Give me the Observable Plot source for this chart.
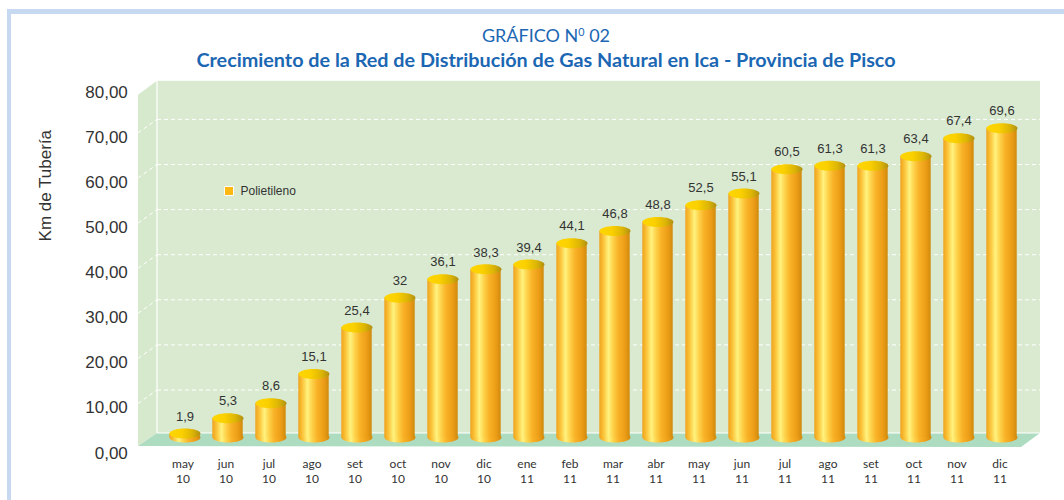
<!DOCTYPE html>
<html>
<head>
<meta charset="utf-8">
<script src="https://cdn.jsdelivr.net/npm/d3@7"></script>
<script src="https://cdn.jsdelivr.net/npm/@observablehq/plot@0.6"></script>
<style>
  html, body { margin: 0; padding: 0; background: #fff; }
  body { width: 1064px; height: 500px; position: relative; overflow: hidden; }
  #frame { position: absolute; left: 7px; top: 9px; right: -10px; bottom: -10px;
           border-top: 5px solid #c6d9f0; border-left: 4px solid #c6d9f0; }
  .t { position: absolute; left: 0; width: 1092px; text-align: center; color: #1b67b3;
       font-family: Lato, "Open Sans", sans-serif; white-space: nowrap; }
  #t1 { top: 26px; font-size: 18px; line-height: 18px; }
  #t1 sup { font-size: 0.6em; vertical-align: 0.6em; line-height: 0; }
  #t2 { top: 48px; font-size: 19.8px; line-height: 22px; font-weight: bold; }
  #chart { position: absolute; left: 0; top: 70px; }
</style>
</head>
<body>
<div id="frame"></div>
<div class="t" id="t1">GRÁFICO N<sup>0</sup> 02</div>
<div class="t" id="t2">Crecimiento de la Red de Distribución de Gas Natural en Ica - Provincia de Pisco</div>
<div id="chart"></div>
<script>
// ---- data ----
const months = ["may","jun","jul","ago","set","oct","nov","dic","ene","feb","mar","abr","may","jun","jul","ago","set","oct","nov","dic"];
const years  = ["10","10","10","10","10","10","10","10","11","11","11","11","11","11","11","11","11","11","11","11"];
const values = [1.9,5.3,8.6,15.1,25.4,32,36.1,38.3,39.4,44.1,46.8,48.8,52.5,55.1,60.5,61.3,61.3,63.4,67.4,69.6];
const yTicks = [0,10,20,30,40,50,60,70,80];
const gridTicks = [10,20,30,40,50,60,70];
const seriesName = "Polietileno";
const yTitle = "Km de Tubería";

const data = months.map((m, i) => ({key: m + "\n" + years[i], v: values[i]}));
const keys = data.map(d => d.key);
const fmtVal = v => String(v).replace(".", ",");
const fmtTick = v => v.toFixed(2).replace(".", ",");

// ellipse symbol for cylinder caps
const RX = 15.5, RY = 5, K = 0.5523;
const ellipse = {
  draw(ctx) {
    ctx.moveTo(-RX, 0);
    ctx.bezierCurveTo(-RX, -K * RY, -K * RX, -RY, 0, -RY);
    ctx.bezierCurveTo(K * RX, -RY, RX, -K * RY, RX, 0);
    ctx.bezierCurveTo(RX, K * RY, K * RX, RY, 0, RY);
    ctx.bezierCurveTo(-K * RX, RY, -RX, K * RY, -RX, 0);
    ctx.closePath();
  }
};

// gradients
function defs() {
  const d = d3.create("svg:defs");
  const g1 = d.append("linearGradient").attr("id", "bodyGrad").attr("x1", 0).attr("x2", 1).attr("y1", 0).attr("y2", 0);
  [[0, "#efa21c"], [0.14, "#fbc43a"], [0.30, "#fff27e"], [0.45, "#fdd24a"], [0.62, "#f9b227"], [0.85, "#eb9c16"], [1, "#cf8a0c"]]
    .forEach(([o, c]) => g1.append("stop").attr("offset", o).attr("stop-color", c));
  const g2 = d.append("linearGradient").attr("id", "capGrad").attr("x1", 0).attr("x2", 1).attr("y1", 0).attr("y2", 0);
  [[0, "#ffd500"], [0.4, "#fad000"], [0.75, "#dcb406"], [1, "#b09012"]]
    .forEach(([o, c]) => g2.append("stop").attr("offset", o).attr("stop-color", c));
  return d.node();
}

// 3D box: walls, floor and gridlines, positioned from the scales
function box(index, scales, values, dims) {
  const y = scales.y;
  const L = dims.marginLeft, R = dims.width - dims.marginRight;
  const backL = L + 0.7, backR = R + 15.3, frontL = L - 18.3, frontR = R - 3.7;
  const backTop = y(80), backBottom = y(0) - 8.6;
  const frontTop = y(80) + 14, frontBottom = y(0) + 4.4;
  const g = d3.create("svg:g");
  g.append("polygon").attr("points", [[frontL, frontTop], [backL, backTop], [backL, backBottom], [frontL, frontBottom]].join(" "))
    .attr("fill", "#d7e9cd");
  g.append("rect").attr("x", backL).attr("y", backTop).attr("width", backR - backL).attr("height", backBottom - backTop)
    .attr("fill", "#d9ead0");
  g.append("polygon").attr("points", [[frontL, frontBottom], [backL, backBottom], [backR, backBottom], [frontR, frontBottom + 1]].join(" "))
    .attr("fill", "#addcc1");
  for (const t of gridTicks) {
    const yb = y(t) - 6.5;
    g.append("line").attr("x1", backL).attr("x2", backR).attr("y1", yb).attr("y2", yb)
      .attr("stroke", "#fff").attr("stroke-dasharray", "4,3").attr("stroke-width", 1);
    g.append("line").attr("x1", frontL).attr("x2", backL).attr("y1", yb + 13.5).attr("y2", yb)
      .attr("stroke", "#fff").attr("stroke-dasharray", "4,3").attr("stroke-width", 1);
  }
  g.append("line").attr("x1", backL).attr("x2", backL).attr("y1", backTop).attr("y2", backBottom).attr("stroke", "#fff").attr("stroke-width", 1.2);
  g.append("line").attr("x1", backL).attr("x2", backR).attr("y1", backBottom).attr("y2", backBottom).attr("stroke", "#fff").attr("stroke-width", 1.2);
  return g.node();
}

const chart = Plot.plot({
  width: 1064,
  height: 430,
  marginLeft: 156.3,
  marginRight: 39.3,
  marginTop: 10.8,
  marginBottom: 58.4,
  style: {background: "transparent", overflow: "visible"},
  x: {type: "band", domain: keys, padding: 0, axis: null},
  y: {domain: [0, 80], axis: null},
  marks: [
    defs,
    box,
    // y tick labels
    Plot.text(yTicks, {y: d => d, text: fmtTick, frameAnchor: "left", textAnchor: "end", dx: -29, dy: 11,
      fontSize: 17, fill: "#333", fontFamily: "Liberation Sans, Arial, sans-serif"}),
    // y title
    Plot.text([yTitle], {frameAnchor: "left", textAnchor: "middle", rotate: -90, dx: -111, dy: -76, fontSize: 17, fill: "#333",
      fontFamily: "Liberation Sans, Arial, sans-serif"}),
    // cylinders
    Plot.dot(data, {x: "key", y: 0, dy: -4.5, dx: 2, symbol: ellipse, fill: "url(#bodyGrad)", stroke: "none"}),
    Plot.barY(data, {x: "key", y1: 0, y2: "v", insetLeft: 6.3, insetRight: 6.3, insetBottom: 4.5, dx: 2, fill: "url(#bodyGrad)"}),
    Plot.dot(data, {x: "key", y: "v", dx: 2, symbol: ellipse, fill: "url(#capGrad)", stroke: "none"}),
    // value labels
    Plot.text(data, {x: "key", y: "v", text: d => fmtVal(d.v), dx: 2, dy: -17, fontSize: 13, fill: "#333",
      fontFamily: "Liberation Sans, Arial, sans-serif"}),
    // category labels
    Plot.text(data, {x: "key", text: "key", frameAnchor: "bottom", lineAnchor: "top", dy: 16, lineHeight: 1.2,
      fontSize: 12, fill: "#333", fontFamily: "Lato, sans-serif"}),
    // legend
    Plot.dot([seriesName], {frameAnchor: "top-left", dx: 72.2, dy: 109.7, symbol: "square", r: 5.1,
      fill: "#fdb813", stroke: "#fff", strokeWidth: 1}),
    Plot.text([seriesName], {frameAnchor: "top-left", lineAnchor: "middle", dx: 83.7, dy: 109.7, text: d => d, textAnchor: "start",
      fontSize: 12, fill: "#333", fontFamily: "Liberation Sans, Arial, sans-serif"})
  ]
});
document.getElementById("chart").appendChild(chart);
</script>
</body>
</html>
